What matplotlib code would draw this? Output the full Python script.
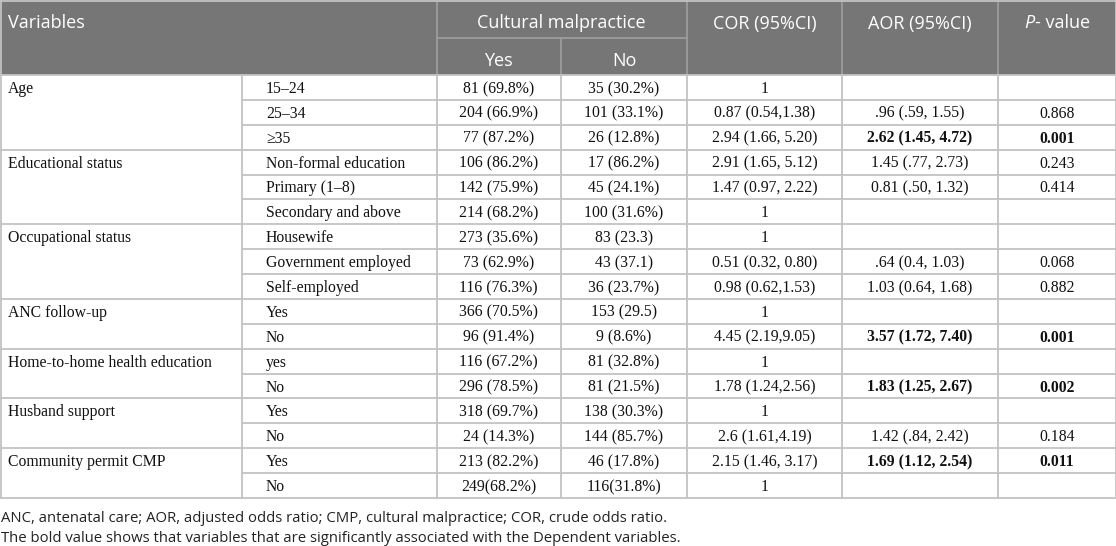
import matplotlib
matplotlib.use("Agg")
import matplotlib.pyplot as plt
from matplotlib.patches import Rectangle

# Table content
groups = ["Age", "Educational status", "Occupational status", "ANC follow-up",
          "Home-to-home health education", "Husband support", "Community permit CMP"]
group_sizes = [3, 3, 3, 2, 2, 2, 2]
levels = ["15\u201324", "25\u201334", "\u226535",
          "Non-formal education", "Primary (1\u20138)", "Secondary and above",
          "Housewife", "Government employed", "Self-employed",
          "Yes", "No",
          "yes", "No",
          "Yes", "No",
          "Yes", "No"]
cmp_yes = ["81 (69.8%)", "204 (66.9%)", "77 (87.2%)",
           "106 (86.2%)", "142 (75.9%)", "214 (68.2%)",
           "273 (35.6%)", "73 (62.9%)", "116 (76.3%)",
           "366 (70.5%)", "96 (91.4%)",
           "116 (67.2%)", "296 (78.5%)",
           "318 (69.7%)", "24 (14.3%)",
           "213 (82.2%)", "249(68.2%)"]
cmp_no = ["35 (30.2%)", "101 (33.1%)", "26 (12.8%)",
          "17 (86.2%)", "45 (24.1%)", "100 (31.6%)",
          "83 (23.3)", "43 (37.1)", "36 (23.7%)",
          "153 (29.5)", "9 (8.6%)",
          "81 (32.8%)", "81 (21.5%)",
          "138 (30.3%)", "144 (85.7%)",
          "46 (17.8%)", "116(31.8%)"]
cor = ["1", "0.87 (0.54,1.38)", "2.94 (1.66, 5.20)",
       "2.91 (1.65, 5.12)", "1.47 (0.97, 2.22)", "1",
       "1", "0.51 (0.32, 0.80)", "0.98 (0.62,1.53)",
       "1", "4.45 (2.19,9.05)",
       "1", "1.78 (1.24,2.56)",
       "1", "2.6 (1.61,4.19)",
       "2.15 (1.46, 3.17)", "1"]
aor = ["", ".96 (.59, 1.55)", "2.62 (1.45, 4.72)",
       "1.45 (.77, 2.73)", "0.81 (.50, 1.32)", "",
       "", ".64 (0.4, 1.03)", "1.03 (0.64, 1.68)",
       "", "3.57 (1.72, 7.40)",
       "", "1.83 (1.25, 2.67)",
       "", "1.42 (.84, 2.42)",
       "1.69 (1.12, 2.54)", ""]
pval = ["", "0.868", "0.001",
        "0.243", "0.414", "",
        "", "0.068", "0.882",
        "", "0.001",
        "", "0.002",
        "", "0.184",
        "0.011", ""]
bold_rows = [2, 10, 12, 15]

footnotes = ["ANC, antenatal care; AOR, adjusted odds ratio; CMP, cultural malpractice; COR, crude odds ratio.",
             "The bold value shows that variables that are significantly associated with the Dependent variables."]

# Layout (pixels)
W, H = 1116, 546
col_x = [0, 242, 436.5, 561, 687, 842, 998, 1116]
head_mid = 38
head_bot = 75
row_h = 24.88

header_bg = "#767676"
header_line = "#9c9c9c"
grid_col = "#c3c3c3"
serif = "Liberation Serif"
sans = "Open Sans"

fig = plt.figure(figsize=(W / 100, H / 100), dpi=100)
ax = fig.add_axes([0, 0, 1, 1])
ax.set_xlim(0, W)
ax.set_ylim(H, 0)
ax.axis("off")

# header background
ax.add_patch(Rectangle((0, 0), W, head_bot, facecolor=header_bg, edgecolor="none"))
hl = dict(color=header_line, lw=1.3)
for x in [436.5, 687, 842, 998]:
    ax.plot([x, x], [0, head_bot], **hl)
ax.plot([561, 561], [head_mid, head_bot], **hl)
ax.plot([436.5, 687], [head_mid, head_mid], **hl)

hs = dict(color="white", fontsize=13, family=sans, va="center")
r1, r2 = 23.5, 60.5
ax.text(8, r1, "Variables", ha="left", **hs)
ax.text((436.5 + 687) / 2, r1, "Cultural malpractice", ha="center", **hs)
ax.text((436.5 + 561) / 2, r2, "Yes", ha="center", **hs)
ax.text((561 + 687) / 2, r2, "No", ha="center", **hs)
ax.text((687 + 842) / 2, r1, "COR (95%CI)", ha="center", **hs)
ax.text((842 + 998) / 2, r1, "AOR (95%CI)", ha="center", **hs)
# "P- value" with italic P, centred as a whole
fig.canvas.draw()
rend = fig.canvas.get_renderer()
tp = ax.text(0, r1, "P", ha="left", style="italic", **hs)
tv = ax.text(0, r1, "- value", ha="left", **hs)
inv = ax.transData.inverted()
def wid(t):
    bb = t.get_window_extent(renderer=rend)
    p0 = inv.transform((bb.x0, bb.y0))
    p1 = inv.transform((bb.x1, bb.y0))
    return p1[0] - p0[0]
wp, wv = wid(tp), wid(tv)
x0 = (998 + 1116) / 2 - (wp + wv) / 2
tp.set_x(x0)
tv.set_x(x0 + wp)

# body grid
n = len(levels)
gl = dict(color=grid_col, lw=1.3)
for i in range(n + 1):
    y = head_bot + i * row_h
    ax.plot([242, W], [y, y], **gl)
y = head_bot
for size in group_sizes:
    ax.plot([0, 242], [y, y], **gl)
    y += row_h * size
ax.plot([0, 242], [y, y], **gl)
body_bot = head_bot + n * row_h
for x in col_x[1:-1]:
    ax.plot([x, x], [head_bot, body_bot], **gl)
ax.plot([0.5, 0.5], [0, body_bot], **gl)
ax.plot([W - 0.5, W - 0.5], [0, body_bot], **gl)
ax.plot([0, W], [0.5, 0.5], **gl)

bs = dict(fontsize=11.3, family=serif, va="baseline", color="#111111")
off = 5.5
row = 0
for g, size in zip(groups, group_sizes):
    ax.text(8, head_bot + row * row_h + row_h / 2 + off, g, ha="left", **bs)
    row += size
for i in range(n):
    yc = head_bot + i * row_h + row_h / 2 + off
    ax.text(266, yc, levels[i], ha="left", **bs)
    ax.text((436.5 + 561) / 2, yc, cmp_yes[i], ha="center", **bs)
    ax.text((561 + 687) / 2, yc, cmp_no[i], ha="center", **bs)
    ax.text((687 + 842) / 2, yc, cor[i], ha="center", **bs)
    w = "bold" if i in bold_rows else "normal"
    ax.text((842 + 998) / 2, yc, aor[i], ha="center", fontweight=w, **bs)
    ax.text((998 + 1116) / 2, yc, pval[i], ha="center", fontweight=w, **bs)

fs = dict(fontsize=10.7, family=sans, va="baseline", ha="left", color="#222222")
ax.text(1, 522.5, footnotes[0], **fs)
ax.text(1, 541.5, footnotes[1], **fs)

fig.savefig("out.png", dpi=100)
